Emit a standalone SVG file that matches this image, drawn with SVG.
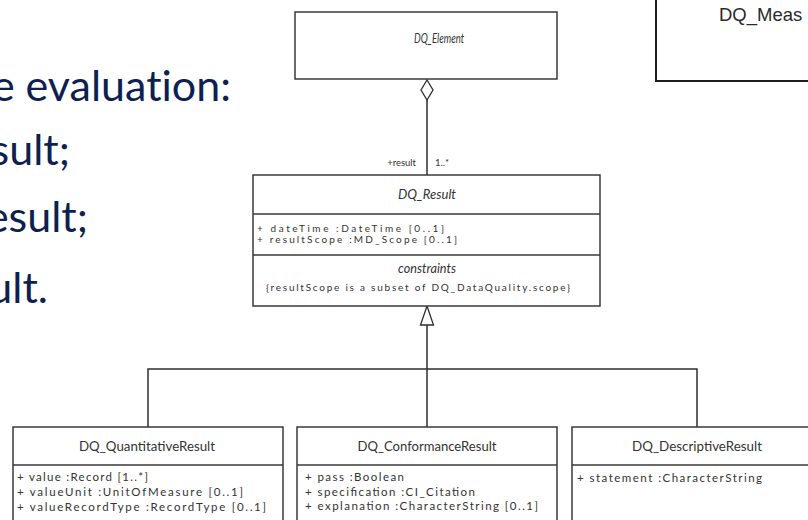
<svg xmlns="http://www.w3.org/2000/svg" width="808" height="520" viewBox="0 0 808 520">
  <style>
    .box { fill: #ffffff; stroke: #3a3a3a; stroke-width: 1.5; }
    .sep { stroke: #3a3a3a; stroke-width: 1.3; }
    .wire { fill: none; stroke: #2e2e2e; stroke-width: 1.5; }
    .head { fill: #ffffff; stroke: #2e2e2e; stroke-width: 1.3; }
    .slide { font-family: Lato, "Liberation Sans", sans-serif; fill: #0e1f50; font-size: 43px; font-variant-ligatures: none; }
    .cname { font-family: Lato, "Liberation Sans", sans-serif; fill: #333333; font-size: 13px; text-anchor: middle; }
    .iname { font-family: Lato, "Liberation Sans", sans-serif; fill: #333333; font-size: 13px; font-style: italic; text-anchor: middle; }
    .attr { font-family: Lato, "Liberation Sans", sans-serif; fill: #333333; font-size: 10px; }
    .attrL { font-family: Lato, "Liberation Sans", sans-serif; fill: #333333; font-size: 11.5px; }
    .role { font-family: Lato, "Liberation Sans", sans-serif; fill: #333333; font-size: 9.5px; }
  </style>

  <rect x="0" y="0" width="808" height="520" fill="#ffffff"/>

  <!-- slide text, running off the left edge -->
  <g id="slide-text" class="slide" text-anchor="end">
    <text x="231" y="101">e evaluation:</text>
    <text x="70" y="165">sult;</text>
    <text x="88" y="232">esult;</text>
    <text x="48" y="303">ult.</text>
  </g>

  <!-- neighbouring class, clipped at the top right -->
  <g id="dq-measure">
    <rect x="656" y="-6" width="170" height="87" fill="#ffffff" stroke="#1e1e1e" stroke-width="2"/>
    <text x="719" y="21" font-family="'Liberation Sans', Arial, sans-serif" font-size="18.5" fill="#2a2a2a">DQ_Meas</text>
  </g>

  <!-- connectors -->
  <g id="connectors">
    <!-- aggregation DQ_Element -> DQ_Result -->
    <line class="wire" x1="427" y1="100" x2="427" y2="175"/>
    <polygon class="head" points="427,80 433,90 427,100 421,90"/>
    <text class="role" x="416" y="166" text-anchor="end">+result</text>
    <text class="role" x="435" y="166">1..*</text>
    <!-- generalization tree -->
    <line class="wire" x1="427" y1="325" x2="427" y2="427"/>
    <polyline class="wire" points="148,427 148,369 697,369 697,427"/>
    <polygon class="head" points="427,306 433.5,325 420.5,325"/>
  </g>

  <g id="dq-element">
    <rect class="box" x="295" y="12" width="262" height="67"/>
    <text class="iname" x="439" y="43" textLength="50" lengthAdjust="spacingAndGlyphs">DQ_Element</text>
  </g>

  <g id="dq-result">
    <rect class="box" x="253" y="175" width="347" height="131"/>
    <line class="sep" x1="253" y1="214" x2="600" y2="214"/>
    <line class="sep" x1="253" y1="255" x2="600" y2="255"/>
    <text class="iname" x="427" y="199" textLength="58" lengthAdjust="spacingAndGlyphs">DQ_Result</text>
    <text class="attr" x="257" y="232" textLength="187" lengthAdjust="spacing">+ dateTime :DateTime [0..1]</text>
    <text class="attr" x="257" y="243" textLength="200" lengthAdjust="spacing">+ resultScope :MD_Scope [0..1]</text>
    <text class="iname" x="427" y="273" textLength="58" lengthAdjust="spacingAndGlyphs">constraints</text>
    <text class="attr" x="266" y="291" textLength="304" lengthAdjust="spacing">{resultScope is a subset of DQ_DataQuality.scope}</text>
  </g>

  <g id="dq-quantitative-result">
    <rect class="box" x="13" y="427" width="270" height="100"/>
    <line class="sep" x1="13" y1="465" x2="283" y2="465"/>
    <text class="cname" x="147" y="451" textLength="136" lengthAdjust="spacingAndGlyphs">DQ_QuantitativeResult</text>
    <text class="attrL" x="17" y="481" textLength="131" lengthAdjust="spacing">+ value :Record [1..*]</text>
    <text class="attrL" x="17" y="496" textLength="226" lengthAdjust="spacing">+ valueUnit :UnitOfMeasure [0..1]</text>
    <text class="attrL" x="17" y="511" textLength="249" lengthAdjust="spacing">+ valueRecordType :RecordType [0..1]</text>
  </g>

  <g id="dq-conformance-result">
    <rect class="box" x="297" y="427" width="260" height="100"/>
    <line class="sep" x1="297" y1="465" x2="557" y2="465"/>
    <text class="cname" x="427" y="451" textLength="139" lengthAdjust="spacingAndGlyphs">DQ_ConformanceResult</text>
    <text class="attrL" x="305" y="481" textLength="99" lengthAdjust="spacing">+ pass :Boolean</text>
    <text class="attrL" x="305" y="496" textLength="170" lengthAdjust="spacing">+ specification :CI_Citation</text>
    <text class="attrL" x="305" y="510" textLength="233" lengthAdjust="spacing">+ explanation :CharacterString [0..1]</text>
  </g>

  <g id="dq-descriptive-result">
    <rect class="box" x="572" y="427" width="260" height="100"/>
    <line class="sep" x1="572" y1="465" x2="808" y2="465"/>
    <text class="cname" x="697" y="451" textLength="130" lengthAdjust="spacingAndGlyphs">DQ_DescriptiveResult</text>
    <text class="attrL" x="577" y="482" textLength="185" lengthAdjust="spacing">+ statement :CharacterString</text>
  </g>
</svg>
